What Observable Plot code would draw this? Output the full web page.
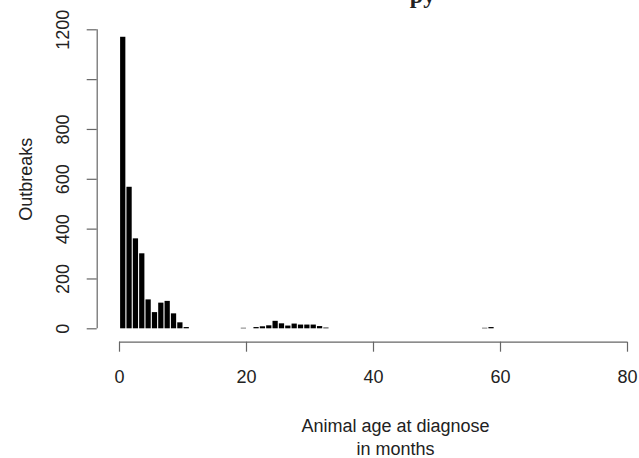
<!DOCTYPE html>
<html>
<head>
<meta charset="utf-8">
<script src="https://cdn.jsdelivr.net/npm/d3@7"></script>
<script src="https://cdn.jsdelivr.net/npm/@observablehq/plot@0.6"></script>
<style>
  html, body { margin: 0; padding: 0; background: #fff; }
  #chart { width: 639px; height: 458px; overflow: hidden; }
</style>
</head>
<body>
<div id="chart"></div>
<script>
// Histogram bins (left edge, months) and outbreak counts
const binStart = [0, 1, 2, 3, 4, 5, 6, 7, 8, 9, 10, 19, 21, 22, 23, 24, 25, 26, 27, 28, 29, 30, 31, 32, 57, 58];
const outbreaks = [1170, 568, 361, 301, 116, 65, 103, 110, 60, 24, 5, 2, 5, 8, 12, 30, 20, 11, 19, 15, 15, 15, 9, 3, 2, 5];
const xTicks = [0, 20, 40, 60, 80];
const yTicks = [0, 200, 400, 600, 800, 1000, 1200];
const yTickLabels = ["0", "200", "400", "600", "800", "", "1200"];
const titleFragment = "py";
const yLabel = "Outbreaks";
const xLabel = "Animal age at diagnose\nin months";

const bins = binStart.map((b, i) => ({x1: b, x2: b + 1, y: outbreaks[i]}));
const yLabelRows = yTicks.map((t, i) => ({t, label: yTickLabels[i]})).filter(d => d.label !== "");

const axisColor = "#666";
const textColor = "#222";
const font = "Liberation Sans, Arial, sans-serif";

const chart = Plot.plot({
  width: 639,
  height: 458,
  marginLeft: 119,
  marginRight: 12,
  marginTop: 29.3,
  marginBottom: 129.7,
  style: {fontFamily: font, background: "#fff", color: textColor, fontSize: "18px"},
  x: {domain: [0, 80], axis: null},
  y: {domain: [0, 1200], axis: null},
  marks: [
    Plot.rectY(bins, {x1: "x1", x2: "x2", y: "y", fill: "#000", insetLeft: 1.1, insetRight: 0}),
    // y axis (offset to the left, R style)
    Plot.ruleX([0], {y1: 0, y2: 1200, dx: -22.3, stroke: axisColor, strokeWidth: 1.2}),
    Plot.axisY({ticks: yTicks, tickSize: 10, dx: -22.3, stroke: axisColor, strokeWidth: 1.2, tickFormat: () => "", label: null}),
    Plot.text(yLabelRows, {y: "t", text: "label", frameAnchor: "left", textAnchor: "middle", lineAnchor: "middle", dx: -56, rotate: -90, fill: textColor, fontSize: 18}),
    // x axis (offset below)
    Plot.ruleY([0], {x1: 0, x2: 80, dy: 13.4, stroke: axisColor, strokeWidth: 1.2}),
    Plot.axisX({ticks: xTicks, tickSize: 10, dy: 13.4, stroke: axisColor, strokeWidth: 1.2, tickFormat: () => "", label: null}),
    Plot.text(xTicks, {x: d => d, text: d => String(d), frameAnchor: "bottom", lineAnchor: "middle", dy: 48, fill: textColor, fontSize: 18}),
    // axis titles
    Plot.text([yLabel], {frameAnchor: "left", textAnchor: "middle", lineAnchor: "middle", dx: -93, rotate: -90, fill: textColor, fontSize: 18}),
    Plot.text([xLabel], {frameAnchor: "bottom", lineAnchor: "middle", dx: 22, dy: 107, lineHeight: 1.28, fill: textColor, fontSize: 18}),
    // clipped title fragment
    Plot.text([titleFragment], {frameAnchor: "top", lineAnchor: "middle", dx: 49, dy: -34.7, fontFamily: "Liberation Serif, serif", fontWeight: "bold", fontSize: 24, fill: textColor})
  ]
});
document.getElementById("chart").appendChild(chart);
</script>
</body>
</html>
